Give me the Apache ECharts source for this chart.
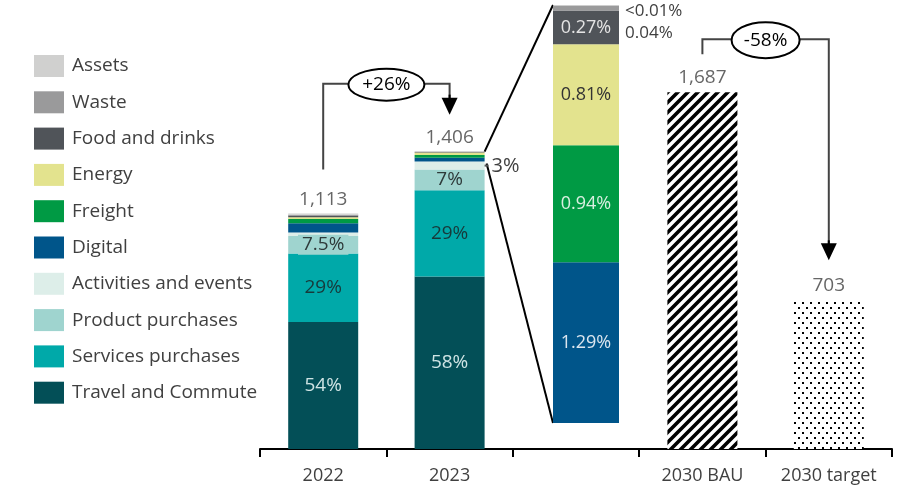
<!DOCTYPE html>
<html>
<head>
<meta charset="utf-8">
<script src="https://cdn.jsdelivr.net/npm/echarts@6/dist/echarts.min.js"></script>
<style>
  html, body { margin: 0; padding: 0; background: #fff; }
  #chart { width: 902px; height: 489px; }
</style>
</head>
<body>
<div id="chart"></div>
<script>
// ---- data -------------------------------------------------------------
const categories = ['2022', '2023', '', '2030 BAU', '2030 target'];

// stacking order, bottom to top
const sectors = ['Travel and Commute', 'Services purchases', 'Product purchases',
  'Activities and events', 'Digital', 'Freight', 'Energy', 'Food and drinks', 'Waste', 'Assets'];
const sectorColors = ['#034f57', '#00a9a9', '#9fd4cf', '#ddeee9', '#00558a',
  '#009a44', '#e3e38e', '#505459', '#9a9a9b', '#d0d0cf'];

const total2022 = 1113;
const total2023 = 1406;
const total2030BAU = 1687;
const total2030Target = 703;

// share of each year's total, %
const share2022 = [54, 29, 7.5, 1.5, 3.9, 1.8, 0.7, 0.8, 0.3, 0.5];
const share2023 = [58, 29, 7, 2.64, 1.29, 0.94, 0.81, 0.27, 0.04, 0.005];
const shareLabels2022 = ['54%', '29%', '7.5%'];
const shareLabels2023 = ['58%', '29%', '7%'];

// detail of the smallest 2023 sectors, % of 2023 total
const detailSectors = ['Digital', 'Freight', 'Energy', 'Food and drinks', 'Waste', 'Assets'];
const detailShare = [1.29, 0.94, 0.81, 0.27, 0.04, 0.005];
const detailLabels = ['1.29%', '0.94%', '0.81%', '0.27%', '0.04%', '<0.01%'];
const detailSliceLabel = '3%';

const changeLabels = ['+26%', '-58%'];

// ---- styles -----------------------------------------------------------
const FONT = '"Open Sans", "Noto Sans", sans-serif';
const TEXT = '#404040';
const shareLabelColors = ['#cfe4e4', '#17393a', '#2e3a3a'];
const detailLabelColors = ['#dbe6ef', '#d9efe1', '#333333', '#e4e4e4', '#333333', '#333333'];

function hatchPattern() {
  const c = document.createElement('canvas');
  c.width = 10; c.height = 10;
  const g = c.getContext('2d');
  g.fillStyle = '#fff'; g.fillRect(0, 0, 10, 10);
  g.strokeStyle = '#000'; g.lineWidth = 3.6;
  g.beginPath();
  g.moveTo(-1, 11); g.lineTo(11, -1);
  g.moveTo(-3, 3); g.lineTo(3, -3);
  g.moveTo(7, 13); g.lineTo(13, 7);
  g.stroke();
  return c;
}
function dotPattern() {
  const c = document.createElement('canvas');
  c.width = 8; c.height = 10;
  const g = c.getContext('2d');
  g.fillStyle = '#fff'; g.fillRect(0, 0, 8, 10);
  g.fillStyle = '#000';
  g.fillRect(2, 2, 2, 2);
  g.fillRect(6, 7, 2, 2);
  return c;
}

const sumDetail = detailShare.reduce((a, b) => a + b, 0);
const sectorIndex = name => sectors.indexOf(name);

// ---- series -----------------------------------------------------------
const series = [];

sectors.forEach((name, i) => {
  const mk = (share, total, labels) => {
    const item = { value: share[i] * total / 100 };
    if (labels[i]) {
      item.label = {
        show: true, position: 'inside', formatter: labels[i],
        color: shareLabelColors[i], fontSize: 19, fontFamily: FONT,
        backgroundColor: i === 2 ? sectorColors[2] : 'transparent',
        padding: i === 2 ? [1, 4, 0, 4] : 0
      };
    }
    return item;
  };
  series.push({
    name, type: 'bar', stack: 'total', barWidth: 70,
    xAxisIndex: 0, yAxisIndex: 0,
    itemStyle: { color: sectorColors[i] },
    emphasis: { disabled: true },
    data: [mk(share2022, total2022, shareLabels2022), mk(share2023, total2023, shareLabels2023), '-', '-', '-']
  });
});

series.push({
  name: '2030 BAU', type: 'bar', stack: 'total', barWidth: 70,
  itemStyle: { color: { image: hatchPattern(), repeat: 'repeat' } },
  emphasis: { disabled: true },
  data: ['-', '-', '-', total2030BAU, '-']
});
series.push({
  name: '2030 target', type: 'bar', stack: 'total', barWidth: 70,
  itemStyle: { color: { image: dotPattern(), repeat: 'repeat' } },
  emphasis: { disabled: true },
  data: ['-', '-', '-', '-', total2030Target]
});

// totals above the columns
series.push({
  name: 'totals', type: 'scatter', symbolSize: 0, silent: true,
  data: [total2022, total2023, '-', total2030BAU, total2030Target],
  label: {
    show: true, position: 'top', distance: 5,
    formatter: p => p.value.toLocaleString('en-US'),
    fontSize: 19, color: TEXT, fontFamily: FONT
  }
});

// detail column of the small 2023 sectors
detailSectors.forEach((name, k) => {
  const i = sectorIndex(name);
  const tiny = k >= 4;
  series.push({
    name, type: 'bar', stack: 'detail', barWidth: '100%',
    xAxisIndex: 1, yAxisIndex: 1,
    itemStyle: { color: sectorColors[i] },
    emphasis: { disabled: true },
    label: tiny ? {
      show: true, position: 'right', distance: 6,
      offset: [0, k === 5 ? 6 : 25],
      formatter: detailLabels[k], color: TEXT, fontSize: 17, fontFamily: FONT
    } : {
      show: true, position: 'inside', formatter: detailLabels[k],
      color: detailLabelColors[k], fontSize: 18, fontFamily: FONT
    },
    data: [detailShare[k]]
  });
});

const option = {
  animation: false,
  backgroundColor: '#fff',
  legend: {
    orient: 'vertical', left: 29, top: 50,
    itemWidth: 30, itemHeight: 22, itemGap: 14.3,
    icon: 'rect', selectedMode: false,
    data: sectors.slice().reverse(),
    textStyle: { fontSize: 19, color: TEXT, fontFamily: FONT, padding: [0, 0, 0, 3] }
  },
  grid: [
    { left: 260, right: 10, top: 26, bottom: 40 },
    { left: 553, width: 66, top: 5, bottom: 66 }
  ],
  xAxis: [
    {
      type: 'category', gridIndex: 0, data: categories,
      axisLine: { lineStyle: { color: '#000', width: 2 } },
      axisTick: { show: true, length: 8, lineStyle: { color: '#000', width: 2 } },
      axisLabel: { fontSize: 18, color: TEXT, fontFamily: FONT, margin: 18 }
    },
    { type: 'category', gridIndex: 1, data: [''], show: false }
  ],
  yAxis: [
    { type: 'value', gridIndex: 0, min: 0, max: 2000, show: false },
    { type: 'value', gridIndex: 1, min: 0, max: sumDetail, show: false }
  ],
  series
};

const chart = echarts.init(document.getElementById('chart'), null, { renderer: 'canvas' });
chart.setOption(option);

// ---- annotations positioned from the axes ------------------------------
const xc = i => chart.convertToPixel({ xAxisIndex: 0 }, i);
const yv = v => chart.convertToPixel({ yAxisIndex: 0 }, v);
const half = 35;

const LINE = { stroke: '#444', lineWidth: 2 };
const graphics = [];

function arrowHead(x, tip) {
  return { type: 'polygon', shape: { points: [[x - 8, tip - 17], [x + 8, tip - 17], [x, tip]] }, style: { fill: '#000' } };
}
function bracket(iFrom, iTo, vFrom, vTo, levelAbove, startGap, tipGap, rx, ry, text) {
  const x1 = xc(iFrom), x2 = xc(iTo);
  const yLevel = yv(Math.max(vFrom, vTo)) - levelAbove;
  const yStart = yv(vFrom) - startGap;
  const yTip = yv(vTo) - tipGap;
  const cx = (x1 + x2) / 2;
  graphics.push({ type: 'polyline', shape: { points: [[x1, yStart], [x1, yLevel], [x2, yLevel], [x2, yTip - 16]] }, style: Object.assign({ fill: null }, LINE) });
  graphics.push({ type: 'line', shape: { x1: x2, y1: yTip - 20, x2: x2, y2: yTip - 16 }, style: { stroke: '#000', lineWidth: 2 } });
  graphics.push(arrowHead(x2, yTip));
  graphics.push({ type: 'ellipse', shape: { cx, cy: yLevel + 1, rx, ry }, style: { fill: '#fff', stroke: '#000', lineWidth: 2 } });
  graphics.push({ type: 'text', x: cx, y: yLevel + 1, style: { text, fill: '#000', font: '19px ' + FONT, align: 'center', verticalAlign: 'middle' } });
}

bracket(0, 1, total2022, total2023, 68, 44, 37, 38, 16, changeLabels[0]);
bracket(3, 4, total2030BAU, total2030Target, 53, 38, 40, 34, 18, changeLabels[1]);

// connectors from the 2023 column to its detail column
const detailTop = chart.convertToPixel({ xAxisIndex: 1, yAxisIndex: 1 }, [0, sumDetail]);
const detailBase = chart.convertToPixel({ xAxisIndex: 1, yAxisIndex: 1 }, [0, 0]);
const detailLeft = detailTop[0] - 33;
const colRight = xc(1) + half;
const sliceTop = yv(total2023);
const sliceBottom = yv(total2023 * (1 - sumDetail / 100));
graphics.push({ type: 'line', shape: { x1: colRight, y1: sliceTop, x2: detailLeft, y2: detailTop[1] }, style: { stroke: '#000', lineWidth: 2 } });
graphics.push({ type: 'line', shape: { x1: colRight + 2, y1: sliceBottom + 2, x2: detailLeft, y2: detailBase[1] }, style: { stroke: '#000', lineWidth: 2 } });
graphics.push({ type: 'line', shape: { x1: colRight - 6, y1: sliceBottom + 4, x2: colRight + 4, y2: sliceBottom + 4 }, style: { stroke: '#555', lineWidth: 2 } });
graphics.push({ type: 'text', x: colRight + 7, y: sliceBottom + 5, style: { text: detailSliceLabel, fill: TEXT, font: '20px ' + FONT, align: 'left', verticalAlign: 'middle' } });

chart.setOption({ graphic: graphics });
</script>
</body>
</html>
